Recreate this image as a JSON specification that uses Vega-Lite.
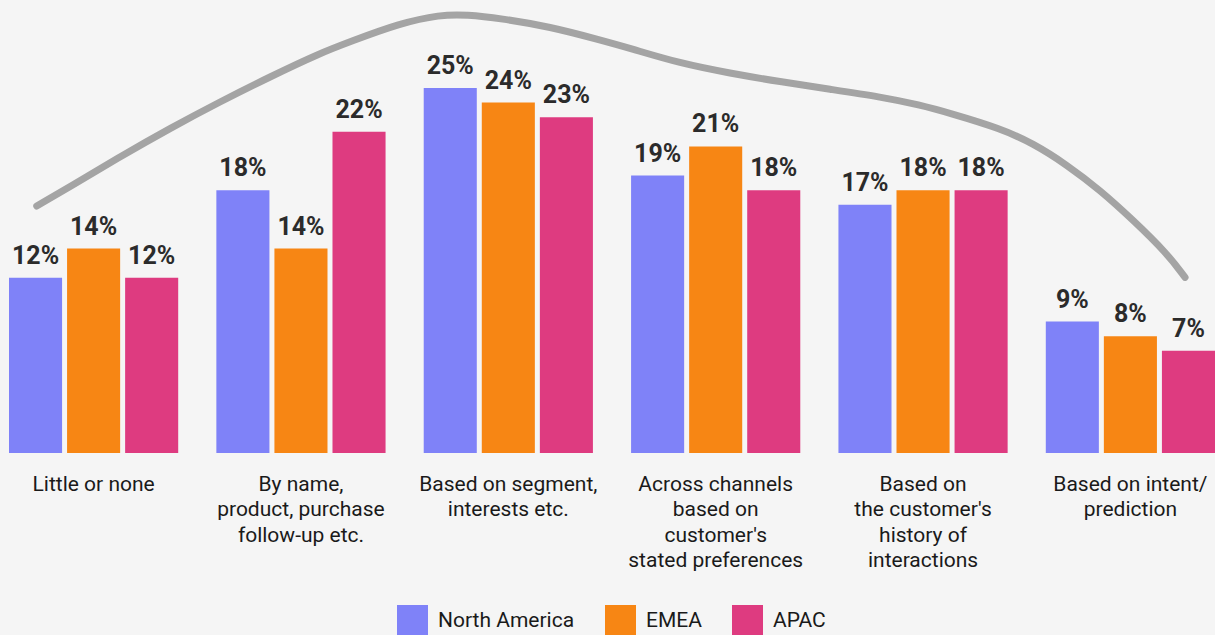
{
  "$schema": "https://vega.github.io/schema/vega-lite/v6.json",
  "width": 1206,
  "height": 438,
  "autosize": {"type": "none"},
  "padding": {"left": 9, "top": 15, "right": 0, "bottom": 182},
  "background": "#F5F5F5",
  "config": {
    "view": {"stroke": null},
    "font": "Roboto"
  },
  "datasets": {
    "bars": [
      {"cat": "Little or none", "region": "North America", "value": 12},
      {"cat": "Little or none", "region": "EMEA", "value": 14},
      {"cat": "Little or none", "region": "APAC", "value": 12},
      {"cat": "By name,|product, purchase|follow-up etc.", "region": "North America", "value": 18},
      {"cat": "By name,|product, purchase|follow-up etc.", "region": "EMEA", "value": 14},
      {"cat": "By name,|product, purchase|follow-up etc.", "region": "APAC", "value": 22},
      {"cat": "Based on segment,|interests etc.", "region": "North America", "value": 25},
      {"cat": "Based on segment,|interests etc.", "region": "EMEA", "value": 24},
      {"cat": "Based on segment,|interests etc.", "region": "APAC", "value": 23},
      {"cat": "Across channels|based on|customer's|stated preferences", "region": "North America", "value": 19},
      {"cat": "Across channels|based on|customer's|stated preferences", "region": "EMEA", "value": 21},
      {"cat": "Across channels|based on|customer's|stated preferences", "region": "APAC", "value": 18},
      {"cat": "Based on|the customer's|history of|interactions", "region": "North America", "value": 17},
      {"cat": "Based on|the customer's|history of|interactions", "region": "EMEA", "value": 18},
      {"cat": "Based on|the customer's|history of|interactions", "region": "APAC", "value": 18},
      {"cat": "Based on intent/|prediction", "region": "North America", "value": 9},
      {"cat": "Based on intent/|prediction", "region": "EMEA", "value": 8},
      {"cat": "Based on intent/|prediction", "region": "APAC", "value": 7}
    ],
    "curve": [
      {"pos": 0.138, "level": 16.92},
      {"pos": 0.303, "level": 18.24},
      {"pos": 0.552, "level": 20.29},
      {"pos": 0.801, "level": 22.24},
      {"pos": 1.050, "level": 24.06},
      {"pos": 1.299, "level": 25.77},
      {"pos": 1.547, "level": 27.38},
      {"pos": 1.697, "level": 28.17},
      {"pos": 1.945, "level": 29.43},
      {"pos": 2.144, "level": 30.02},
      {"pos": 2.279, "level": 30.02},
      {"pos": 2.443, "level": 29.77},
      {"pos": 2.692, "level": 29.2},
      {"pos": 2.940, "level": 28.29},
      {"pos": 3.090, "level": 27.72},
      {"pos": 3.338, "level": 26.69},
      {"pos": 3.587, "level": 26.01},
      {"pos": 3.836, "level": 25.43},
      {"pos": 4.085, "level": 24.91},
      {"pos": 4.333, "level": 24.40},
      {"pos": 4.532, "level": 23.84},
      {"pos": 4.682, "level": 23.27},
      {"pos": 4.930, "level": 22.24},
      {"pos": 5.095, "level": 21.21},
      {"pos": 5.264, "level": 19.73},
      {"pos": 5.428, "level": 18.01},
      {"pos": 5.592, "level": 15.96},
      {"pos": 5.761, "level": 13.68},
      {"pos": 5.851, "level": 12.03}
    ]
  },
  "layer": [
    {
      "data": {"name": "bars"},
      "transform": [{"calculate": "datum.value + '%'", "as": "label"}],
      "encoding": {
        "x": {
          "field": "cat", "type": "nominal", "sort": null,
          "scale": {"paddingInner": 0.184, "paddingOuter": 0},
          "axis": {
            "title": null, "domain": false, "ticks": false, "tickSize": 0,
            "labelAngle": 0, "labelFontSize": 21, "labelColor": "#1A1A1A",
            "labelFont": "Roboto", "labelPadding": 20, "labelLineHeight": 25.5,
            "labelExpr": "split(datum.label, '|')", "labelLimit": 300
          }
        },
        "xOffset": {
          "field": "region", "type": "nominal",
          "sort": ["North America", "EMEA", "APAC"],
          "scale": {"paddingInner": 0.086, "paddingOuter": 0}
        },
        "y": {
          "field": "value", "type": "quantitative",
          "scale": {"domain": [0, 30], "nice": false},
          "axis": null
        }
      },
      "layer": [
        {
          "mark": {"type": "bar"},
          "encoding": {
            "color": {
              "field": "region", "type": "nominal",
              "scale": {"domain": ["North America", "EMEA", "APAC"], "range": ["#7F82F8", "#F78614", "#DE3B80"]},
              "legend": {
                "title": null, "orient": "none", "direction": "horizontal",
                "legendX": 388, "legendY": 590, "padding": 0,
                "symbolType": "square", "symbolSize": 961, "symbolStrokeWidth": 0,
                "symbolOpacity": 1,
                "labelFontSize": 21, "labelColor": "#1A1A1A", "labelFont": "Roboto",
                "labelOffset": 10, "columnPadding": 30, "labelLimit": 300
              }
            }
          }
        },
        {
          "mark": {"type": "text", "baseline": "alphabetic", "dy": -14, "fontSize": 25, "fontWeight": "bold", "color": "#2B2B2B", "font": "Roboto"},
          "encoding": {
            "text": {"field": "label", "type": "nominal"}
          }
        }
      ]
    },
    {
      "data": {"name": "curve"},
      "mark": {"type": "line", "interpolate": "basis", "color": "#A4A4A4", "strokeWidth": 7, "strokeCap": "round"},
      "encoding": {
        "x": {"field": "pos", "type": "quantitative", "scale": {"domain": [0, 6], "nice": false, "zero": false}, "axis": null},
        "y": {"field": "level", "type": "quantitative"}
      }
    }
  ],
  "resolve": {"scale": {"x": "independent"}, "axis": {"x": "independent"}}
}
